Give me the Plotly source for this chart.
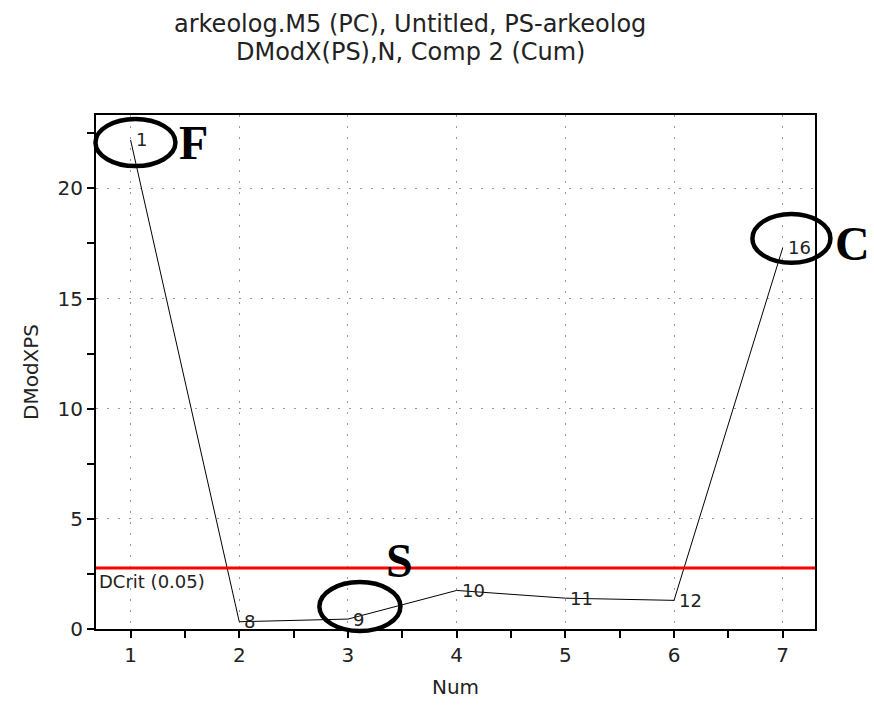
import plotly.graph_objects as go

num = [1, 2, 3, 4, 5, 6, 7]
dmodx = [22.2, 0.33, 0.45, 1.75, 1.4, 1.3, 17.3]
obs_labels = ["1", "8", "9", "10", "11", "12", "16"]
dcrit = 2.77
dcrit_label = "DCrit (0.05)"
title_lines = ["arkeolog.M5 (PC), Untitled, PS-arkeolog", "DModX(PS),N, Comp 2 (Cum)"]
# highlight letters with their position (data units)
mark_letters = ["F", "C", "S"]
mark_x = [1.575, 7.645, 3.478]
mark_y = [22.1, 17.52, 3.13]
# highlight ellipses: center x, center y, half-width, half-height (data units)
ell_cx = [1.045, 7.08, 3.11]
ell_cy = [22.08, 17.73, 1.02]
ell_hw = [0.368, 0.359, 0.373]
ell_hh = [1.07, 1.11, 1.11]

XR = [0.682, 7.297]
YR = [0, 23.33]
FONT = "DejaVu Sans, Liberation Sans, Arial"

def px(x):
    return (x - XR[0]) / (XR[1] - XR[0])

def py(y):
    return (y - YR[0]) / (YR[1] - YR[0])

fig = go.Figure()
fig.add_trace(go.Scatter(
    x=num, y=dmodx, mode="lines",
    line=dict(color="black", width=1), cliponaxis=False,
))
for xv, yv, lab in zip(num, dmodx, obs_labels):
    fig.add_annotation(x=xv, y=yv, text=lab, showarrow=False, xanchor="left", yanchor="middle",
                       xshift=3, font=dict(family=FONT, size=18, color="#222"))

fig.add_shape(type="line", xref="paper", yref="y", x0=0, x1=1, y0=dcrit, y1=dcrit,
              line=dict(color="#ff0000", width=3))
fig.add_annotation(xref="paper", yref="y", x=0.002, y=dcrit, text=dcrit_label,
                   showarrow=False, xanchor="left", yanchor="top", yshift=-1,
                   font=dict(family=FONT, size=18, color="#222"))

for cx, cy, hw, hh in zip(ell_cx, ell_cy, ell_hw, ell_hh):
    fig.add_shape(type="circle", xref="paper", yref="paper",
                  x0=px(cx - hw), x1=px(cx + hw), y0=py(cy - hh), y1=py(cy + hh),
                  line=dict(color="black", width=4.5), layer="above")

for letter, mx, my in zip(mark_letters, mark_x, mark_y):
    fig.add_annotation(xref="paper", yref="paper", x=px(mx), y=py(my), text="<b>%s</b>" % letter,
                       xanchor="center", yanchor="middle", showarrow=False,
                       font=dict(family="Liberation Serif, Times New Roman", size=48, color="black"))

# two-line title as annotations (tight line spacing)
H = 712 - 115 - 83
W = 874 - 96 - 59
for line, ypx in zip(title_lines, [24, 52]):
    fig.add_annotation(xref="paper", yref="paper", x=(410 - 96) / W, y=(629 - ypx) / H, text=line,
                       xanchor="center", yanchor="middle", showarrow=False,
                       font=dict(family=FONT, size=24, color="#222"))

fig.update_layout(
    width=874, height=712,
    margin=dict(l=96, r=59, t=115, b=83),
    paper_bgcolor="white", plot_bgcolor="white",
    showlegend=False,
    font=dict(family=FONT, size=20, color="#222"),
)
grid = dict(showgrid=True, gridcolor="#999", griddash="2px,9px", gridwidth=1, zeroline=False)
fig.update_xaxes(range=XR, tickvals=num, ticks="outside", ticklen=7, tickcolor="black", tickwidth=1.5,
                 showline=True, linecolor="black", linewidth=2, mirror=True,
                 tickfont=dict(size=20),
                 minor=dict(dtick=0.5, ticks="outside", ticklen=7, tickcolor="black", tickwidth=1.5, showgrid=False),
                 title=dict(text="Num", standoff=14, font=dict(size=20)), **grid)
fig.update_yaxes(range=YR, tickvals=[0, 5, 10, 15, 20], ticks="outside", ticklen=7, tickcolor="black", tickwidth=1.5,
                 showline=True, linecolor="black", linewidth=2, mirror=True,
                 tickfont=dict(size=20),
                 minor=dict(dtick=2.5, ticks="outside", ticklen=7, tickcolor="black", tickwidth=1.5, showgrid=False),
                 title=dict(text="DModXPS", standoff=14, font=dict(size=20)), **grid)

fig.write_html("out.html")
